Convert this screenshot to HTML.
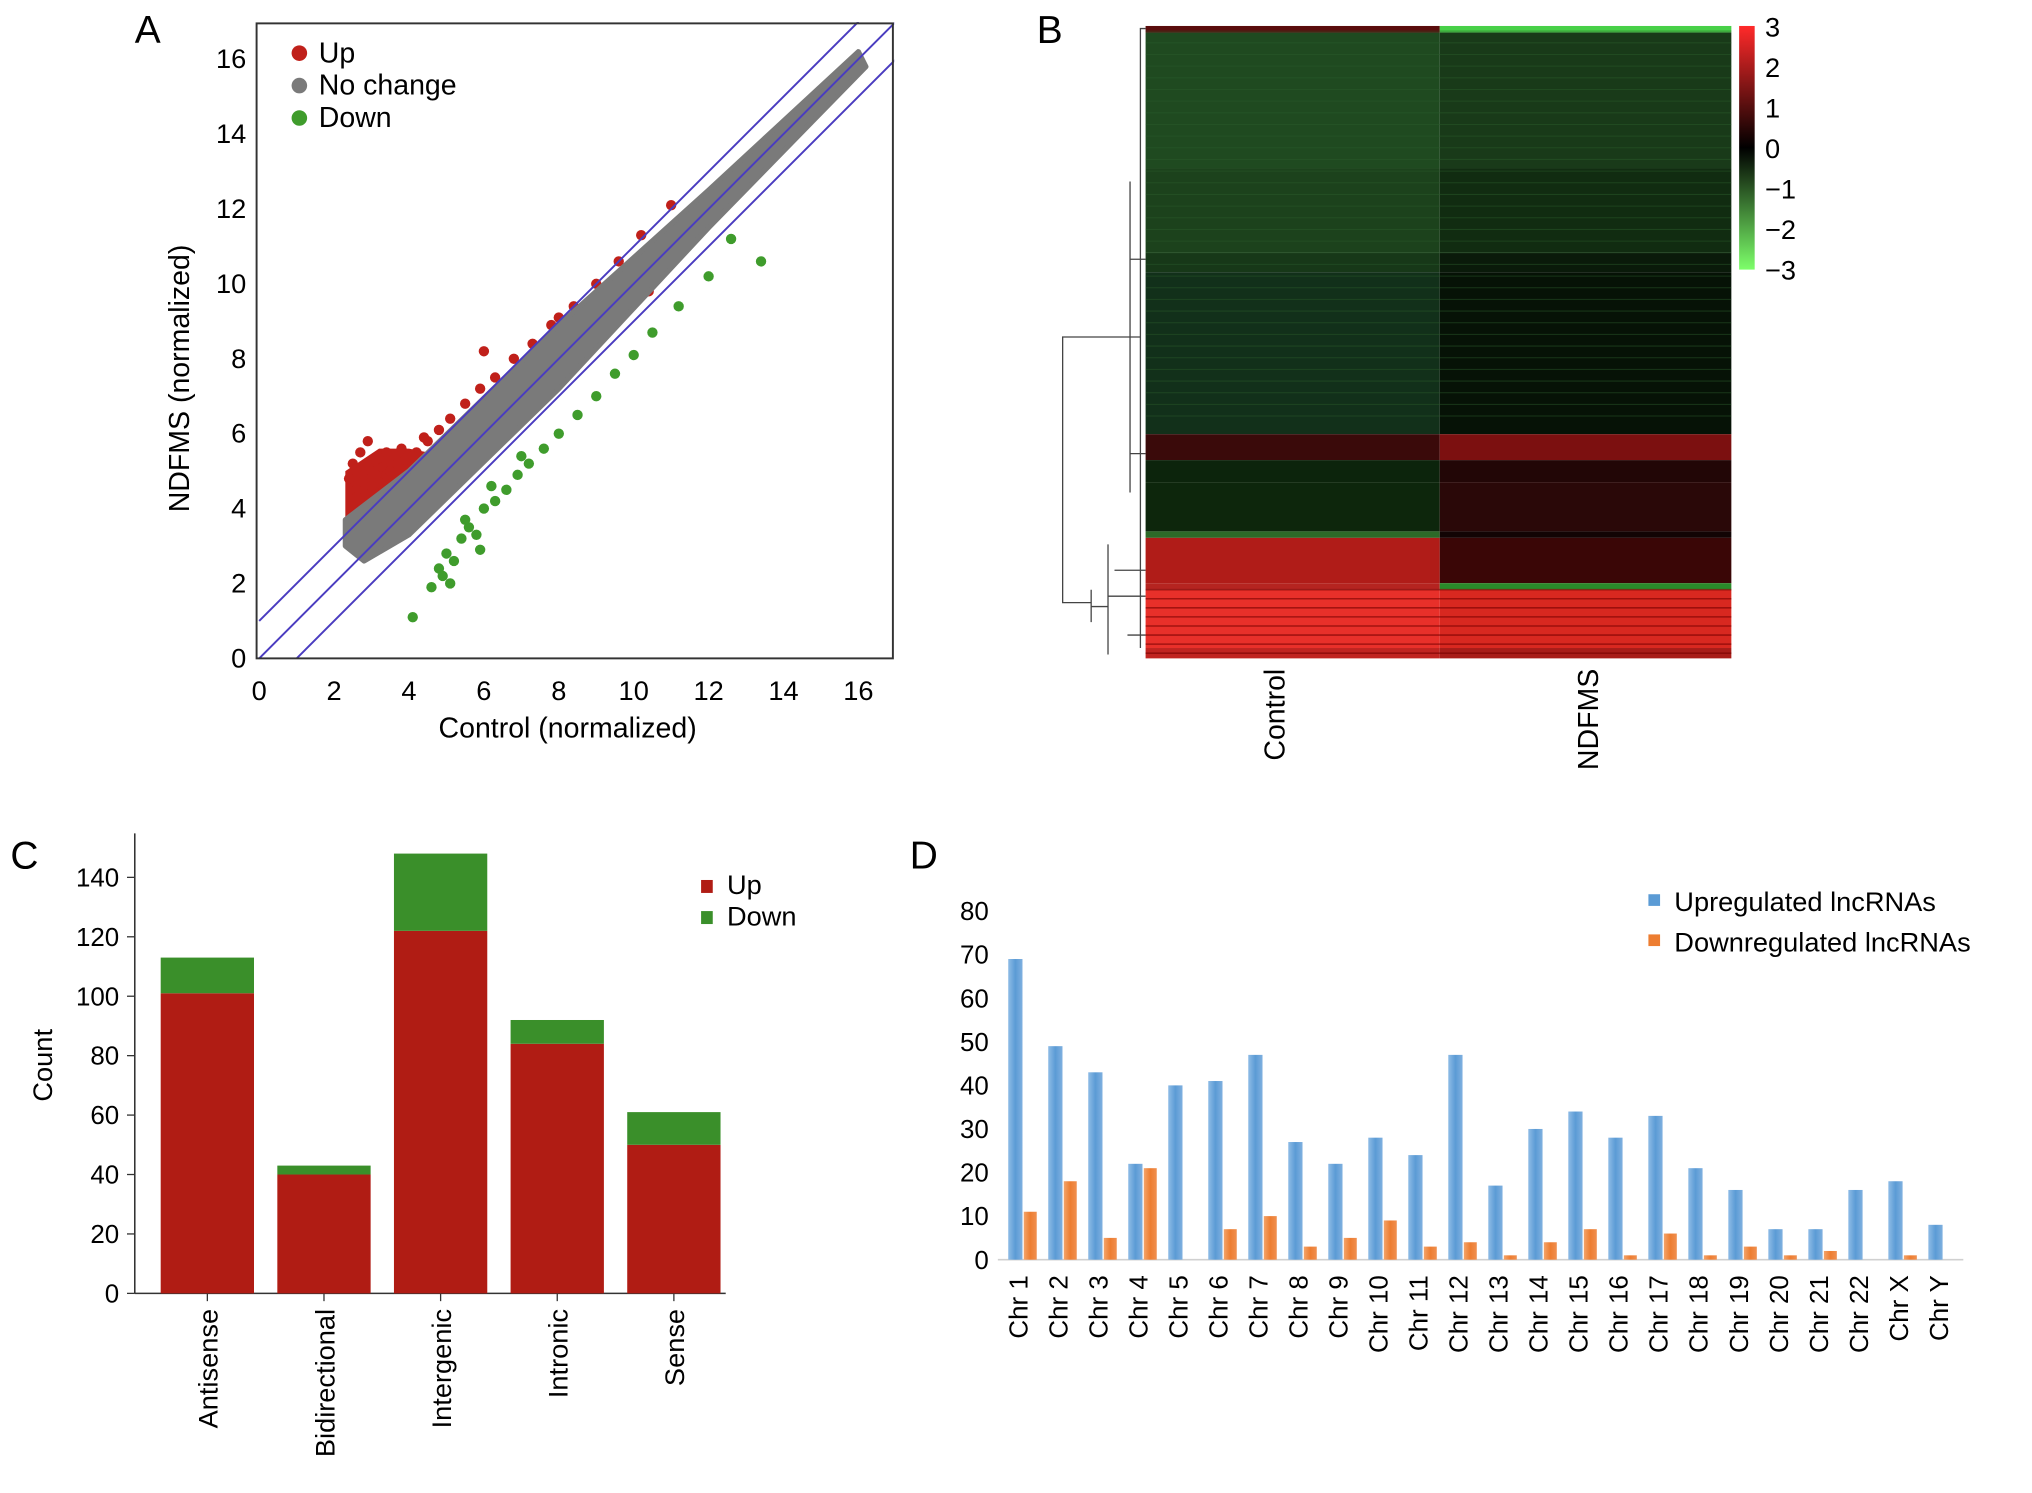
<!DOCTYPE html>
<html><head><meta charset="utf-8"><style>
html,body{margin:0;padding:0;background:#fff}
svg{display:block;font-family:"Liberation Sans",sans-serif}
</style></head><body>
<svg id="fig" width="2032" height="1493" viewBox="0 0 1568 1152" xmlns="http://www.w3.org/2000/svg">
<defs>
<linearGradient id="gb" x1="0" x2="1"><stop offset="0" stop-color="#8fbce6"/><stop offset="0.5" stop-color="#5b9bd5"/><stop offset="1" stop-color="#7fb0df"/></linearGradient>
<linearGradient id="go" x1="0" x2="1"><stop offset="0" stop-color="#f4a46a"/><stop offset="0.5" stop-color="#ed7d31"/><stop offset="1" stop-color="#f09050"/></linearGradient>
<linearGradient id="gc" x1="0" y1="0" x2="0" y2="1"><stop offset="0" stop-color="#ff2a2a"/><stop offset="0.5" stop-color="#000"/><stop offset="1" stop-color="#7dff6a"/></linearGradient>
</defs>
<g id="pA"></g>
<g id="pB"></g>
<g id="pC"></g>
<g id="pD"></g>
</svg>
<script>
// ---- Panel A data ----
const upX=[2.4,2.5,2.6,2.7,2.8,2.9,3.0,3.1,3.2,3.3,3.4,2.5,2.7,2.9,3.1,3.3,3.5,3.7,3.9,4.2,4.5,4.8,5.1,5.5,5.9,6.3,6.8,7.3,7.8,8.4,9.0,9.6,10.2,11.0,2.6,3.0,3.4,3.8,4.1,4.4,6.0,8.0,10.4];
const upY=[4.8,5.2,4.5,5.5,4.9,5.8,5.0,5.3,4.7,5.1,4.9,3.8,4.2,4.0,4.4,4.6,5.0,5.2,5.3,5.5,5.8,6.1,6.4,6.8,7.2,7.5,8.0,8.4,8.9,9.4,10.0,10.6,11.3,12.1,4.3,4.6,5.5,5.6,5.4,5.9,8.2,9.1,9.8];
const dnX=[4.1,4.6,4.8,5.0,5.2,5.4,5.6,5.8,6.0,6.3,6.6,6.9,7.2,7.6,8.0,8.5,9.0,9.5,10.0,10.5,11.2,12.0,12.6,13.4,5.1,5.5,5.9,6.2,4.9,7.0];
const dnY=[1.1,1.9,2.4,2.8,2.6,3.2,3.5,3.3,4.0,4.2,4.5,4.9,5.2,5.6,6.0,6.5,7.0,7.6,8.1,8.7,9.4,10.2,11.2,10.6,2.0,3.7,2.9,4.6,2.2,5.4];
const aTicks=[0,2,4,6,8,10,12,14,16];
// ---- Panel B data ----
const hmRowsY=[0,5,110,175,190,315,335,352,390,395,430,435,480,488];
const hmCtrl=["#5a0c0c","#1f4a20","#1c421c","#173818","#12301a","#3a0a0a","#0c240c","#0d260c","#2c6a28","#b01c18","#b52420","#e8302a","#c02420","#a01818"];
const hmNdf=["#48d048","#193a19","#112c11","#0a1a0a","#061206","#7c1010","#220606","#2a0808","#120404","#3a0606","#2a8a2a","#d82820","#a81c18","#801515"];
const cbLabels=["3","2","1","0","\u22121","\u22122","\u22123"];
// ---- Panel C data ----
const cCats=["Antisense","Bidirectional","Intergenic","Intronic","Sense"];
const cUp=[101,40,122,84,50];
const cDown=[12,3,26,8,11];
const cTicks=[0,20,40,60,80,100,120,140];
// ---- Panel D data ----
const dCats=["Chr 1","Chr 2","Chr 3","Chr 4","Chr 5","Chr 6","Chr 7","Chr 8","Chr 9","Chr 10","Chr 11","Chr 12","Chr 13","Chr 14","Chr 15","Chr 16","Chr 17","Chr 18","Chr 19","Chr 20","Chr 21","Chr 22","Chr X","Chr Y"];
const dUp=[69,49,43,22,40,41,47,27,22,28,24,47,17,30,34,28,33,21,16,7,7,16,18,8];
const dDown=[11,18,5,21,0,7,10,3,5,9,3,4,1,4,7,1,6,1,3,1,2,0,1,0];
const dTicks=[0,10,20,30,40,50,60,70,80];

const NS="http://www.w3.org/2000/svg";
function mk(p,tag,at,txt){const e=document.createElementNS(NS,tag);for(const k in at)e.setAttribute(k,at[k]);if(txt!==undefined)e.textContent=txt;p.appendChild(e);return e;}

// ===== Panel A =====
const A=document.getElementById('pA');
const ax=v=>200+v*28.9, ay=v=>508-v*28.9;
let t, r;
mk(A,'polygon',{points:[[2.3,3.4],[2.3,5.0],[3.2,5.6],[4,5.6],[4.5,5.5],[3.8,3.6]].map(p=>ax(p[0])+','+ay(p[1])).join(' '),fill:'#c0201a'});
upX.forEach((x,i)=>{const c=mk(A,'circle',{cx:ax(x),cy:ay(upY[i]),r:4,fill:'#c0201a'});
});
let band=mk(A,'polygon',{points:[[2.3,3.0],[2.3,3.7],[4,5.0],[8,8.9],[12,12.5],[16,16.2],[16.2,15.8],[12,11.5],[8,7.2],[4,3.3],[2.8,2.6]].map(p=>ax(p[0])+','+ay(p[1])).join(' '),fill:'#7a7a7a',stroke:'#7a7a7a','stroke-width':4,'stroke-linejoin':'round'});

dnX.forEach((x,i)=>{const c=mk(A,'circle',{cx:ax(x),cy:ay(dnY[i]),r:4,fill:'#3f9c2c'});
});
[[0,1],[0,0],[1,0]].forEach(o=>{const l=mk(A,'line',{x1:ax(o[0]),y1:ay(o[1]),x2:ax(Math.min(17,17-o[1]+o[0])),y2:ay(Math.min(17,17-o[0]+o[1])),stroke:'#4a3cc0','stroke-width':1.5});
});
mk(A,'rect',{x:0,y:0,width:198,height:520,fill:'#fff'});mk(A,'rect',{x:690,y:0,width:30,height:520,fill:'#fff'});mk(A,'rect',{x:198,y:0,width:520,height:17,fill:'#fff'});
r=mk(A,'rect',{x:198,y:18,width:491,height:490,fill:'none',stroke:'#333','stroke-width':1.5});

t=mk(A,'text',{x:104,y:33,'font-size':30},'A');

aTicks.forEach(v=>{
 let a=mk(A,'text',{x:ax(v),y:540,'font-size':21,'text-anchor':'middle'},v);
 let b=mk(A,'text',{x:190,y:ay(v)+7,'font-size':21,'text-anchor':'end'},v);
});
t=mk(A,'text',{x:438,y:569,'font-size':22,'text-anchor':'middle'},'Control (normalized)');
t=mk(A,'text',{x:0,y:0,'font-size':22,'text-anchor':'middle',transform:'translate(146,292) rotate(-90)'},'NDFMS (normalized)');
[['Up','#c0201a',40],['No change','#7a7a7a',65],['Down','#3f9c2c',90]].forEach(l=>{
 const g=mk(A,'g',{});
 mk(g,'circle',{cx:231,cy:l[2]+1,r:6,fill:l[1]});mk(g,'text',{x:246,y:l[2]+8,'font-size':22},l[0]);
});

// ===== Panel B =====
const B=document.getElementById('pB');
t=mk(B,'text',{x:800,y:33,'font-size':30},'B');
const hy=v=>20+v;
hmRowsY.forEach((y0,i)=>{const y1=i+1<hmRowsY.length?hmRowsY[i+1]:488;
 let c=mk(B,'rect',{x:884,y:hy(y0),width:227,height:y1-y0,fill:hmCtrl[i]});
 c=mk(B,'rect',{x:1111,y:hy(y0),width:225,height:y1-y0,fill:hmNdf[i]});
});
for(let y=24;y<330;y+=9){mk(B,'line',{x1:884,y1:y,x2:1336,y2:y,stroke:'#2a5a2a','stroke-width':0.8,opacity:0.5});}
for(let y=455;y<505;y+=7){mk(B,'line',{x1:884,y1:y,x2:1336,y2:y,stroke:'#700','stroke-width':1.2,opacity:0.6});}
const den=mk(B,'path',{d:'M884,22 H880 V500 M880,260 H872 M872,140 V380 M872,260 H820 V465 H842 M842,455 V480 M842,468 H855 M855,420 V505 M855,460 H884 M872,200 H884 M872,350 H884 M860,440 H884 M870,490 H884',fill:'none',stroke:'#444','stroke-width':1});

r=mk(B,'rect',{x:1342,y:20,width:12,height:188,fill:'url(#gc)'});
cbLabels.forEach((l,i)=>{const e=mk(B,'text',{x:1362,y:28+i*31.3,'font-size':21},l);});
t=mk(B,'text',{x:0,y:0,'font-size':22,'text-anchor':'end',transform:'translate(991,516) rotate(-90)'},'Control');
t=mk(B,'text',{x:0,y:0,'font-size':22,'text-anchor':'end',transform:'translate(1233,516) rotate(-90)'},'NDFMS');

// ===== Panel C =====
const C=document.getElementById('pC');
const cy=v=>998-v*2.293, cx=i=>124+i*90;
t=mk(C,'text',{x:8,y:670,'font-size':30},'C');
mk(C,'line',{x1:104,y1:643,x2:104,y2:998,stroke:'#333','stroke-width':1.2});
mk(C,'line',{x1:104,y1:998,x2:560,y2:998,stroke:'#333','stroke-width':1.2});
cTicks.forEach(v=>{mk(C,'line',{x1:98,y1:cy(v),x2:104,y2:cy(v),stroke:'#333'});
 const e=mk(C,'text',{x:92,y:cy(v)+7,'font-size':20,'text-anchor':'end'},v);});
cCats.forEach((c,i)=>{
 let b=mk(C,'rect',{x:cx(i),y:cy(cUp[i]),width:72,height:cy(0)-cy(cUp[i]),fill:'#b01c14'});
 b=mk(C,'rect',{x:cx(i),y:cy(cUp[i]+cDown[i]),width:72,height:cy(cUp[i])-cy(cUp[i]+cDown[i]),fill:'#3a8f2a'});
 mk(C,'line',{x1:cx(i)+36,y1:998,x2:cx(i)+36,y2:1004,stroke:'#333'});
 const e=mk(C,'text',{x:0,y:0,'font-size':21,'text-anchor':'end',transform:`translate(${cx(i)+44},1010) rotate(-90)`},c);
});
t=mk(C,'text',{x:0,y:0,'font-size':21,'text-anchor':'middle',transform:'translate(40,822) rotate(-90)'},'Count');
[['Up','#b01c14',683],['Down','#3a8f2a',707]].forEach(l=>{const g=mk(C,'g',{});
 mk(g,'rect',{x:541,y:l[2]-4,width:9,height:10,fill:l[1]});mk(g,'text',{x:561,y:l[2]+7,'font-size':21},l[0]);});

// ===== Panel D =====
const D=document.getElementById('pD');
const dy=v=>972-v*3.3625, dx=i=>783+i*30.87;
t=mk(D,'text',{x:702,y:670,'font-size':30},'D');
mk(D,'line',{x1:770,y1:972,x2:1515,y2:972,stroke:'#d0d0d0','stroke-width':1.2});
dTicks.forEach(v=>{const e=mk(D,'text',{x:763,y:dy(v)+7,'font-size':20,'text-anchor':'end'},v);});
dCats.forEach((c,i)=>{
 let b=mk(D,'rect',{x:dx(i)-5,y:dy(dUp[i]),width:11,height:dy(0)-dy(dUp[i]),fill:'url(#gb)'});
 b=mk(D,'rect',{x:dx(i)+7,y:dy(dDown[i]),width:10,height:dy(0)-dy(dDown[i]),fill:'url(#go)'});
 const e=mk(D,'text',{x:0,y:0,'font-size':20,'text-anchor':'end',transform:`translate(${dx(i)+10},984) rotate(-90)`},c);
});
[['Upregulated lncRNAs','#5b9bd5',695],['Downregulated lncRNAs','#ed7d31',726]].forEach(l=>{const g=mk(D,'g',{});
 mk(g,'rect',{x:1272,y:l[2]-5,width:9,height:9,fill:l[1]});mk(g,'text',{x:1292,y:l[2]+8,'font-size':21},l[0]);});
</script>
</body></html>
